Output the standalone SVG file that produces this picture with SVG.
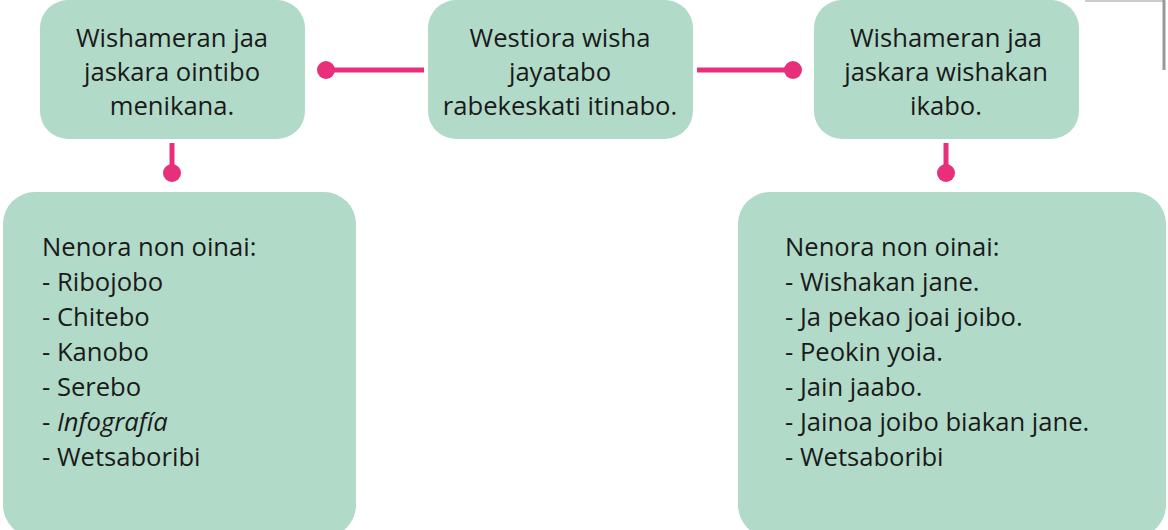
<svg xmlns="http://www.w3.org/2000/svg" width="1168" height="530" viewBox="0 0 1168 530">
<style>
.box{fill:#b1dac8}
.t{font-family:"Open Sans","Noto Sans",sans-serif;font-size:25.6px;fill:#1a1a1a}
.c{text-anchor:middle}
.ln{stroke:#e8307a;stroke-width:5;fill:none}
.dot{fill:#e8307a}
</style>
<rect width="1168" height="530" fill="#fff"/>
<g id="artifact" fill="none">
<line x1="1085" y1="1" x2="1163" y2="1" stroke="#ccc" stroke-width="2"/>
<line x1="1164" y1="0" x2="1164" y2="70" stroke-width="3" stroke="#999"/>
</g>
<g id="connectors">
<line class="ln" x1="326" y1="70" x2="424" y2="70"/>
<circle class="dot" cx="326" cy="70" r="9"/>
<line class="ln" x1="697" y1="70" x2="793" y2="70"/>
<circle class="dot" cx="793" cy="70" r="9"/>
<line class="ln" x1="172" y1="143" x2="172" y2="172"/>
<circle class="dot" cx="172" cy="173" r="9"/>
<line class="ln" x1="946" y1="143" x2="946" y2="172"/>
<circle class="dot" cx="946" cy="173" r="9"/>
</g>
<g id="n1">
<rect class="box" x="40" y="0" width="265" height="139" rx="28"/>
<text class="t c" x="172" y="47">Wishameran jaa</text>
<text class="t c" x="172" y="81">jaskara ointibo</text>
<text class="t c" x="172" y="115">menikana.</text>
</g>
<g id="n2">
<rect class="box" x="428" y="0" width="265" height="139" rx="28"/>
<text class="t c" x="560" y="47">Westiora wisha</text>
<text class="t c" x="560" y="81">jayatabo</text>
<text class="t c" x="560" y="115">rabekeskati itinabo.</text>
</g>
<g id="n3">
<rect class="box" x="814" y="0" width="265" height="139" rx="28"/>
<text class="t c" x="946" y="47">Wishameran jaa</text>
<text class="t c" x="946" y="81">jaskara wishakan</text>
<text class="t c" x="946" y="115">ikabo.</text>
</g>
<g id="n4">
<rect class="box" x="3" y="192" width="353" height="345" rx="32"/>
<text class="t" x="42" y="256">Nenora non oinai:</text>
<text class="t" x="42" y="291">- Ribojobo</text>
<text class="t" x="42" y="326">- Chitebo</text>
<text class="t" x="42" y="361">- Kanobo</text>
<text class="t" x="42" y="396">- Serebo</text>
<text class="t" x="42" y="431">- <tspan font-style="italic">Infografía</tspan></text>
<text class="t" x="42" y="466">- Wetsaboribi</text>
</g>
<g id="n5">
<rect class="box" x="738" y="192" width="428" height="345" rx="32"/>
<text class="t" x="785" y="256">Nenora non oinai:</text>
<text class="t" x="785" y="291">- Wishakan jane.</text>
<text class="t" x="785" y="326">- Ja pekao joai joibo.</text>
<text class="t" x="785" y="361">- Peokin yoia.</text>
<text class="t" x="785" y="396">- Jain jaabo.</text>
<text class="t" x="785" y="431">- Jainoa joibo biakan jane.</text>
<text class="t" x="785" y="466">- Wetsaboribi</text>
</g>
</svg>
